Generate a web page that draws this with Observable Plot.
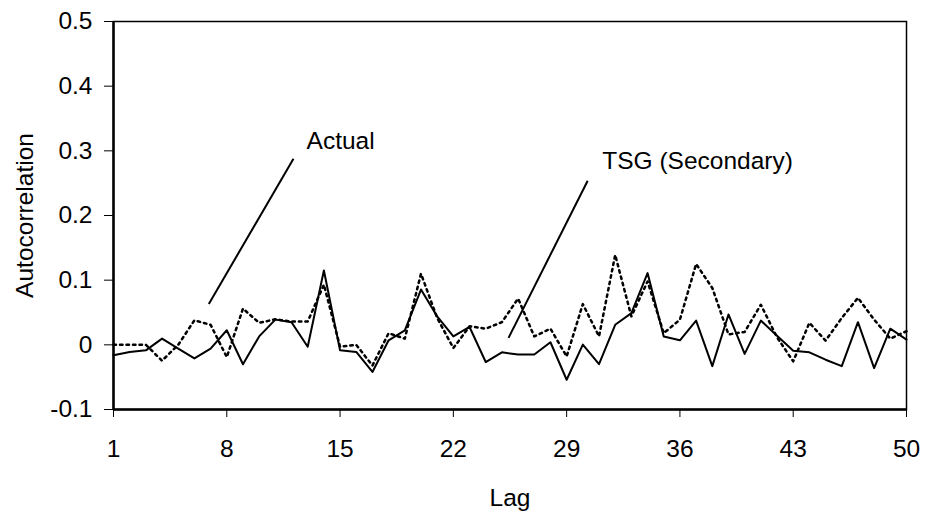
<!DOCTYPE html>
<html>
<head>
<meta charset="utf-8">
<script src="https://cdn.jsdelivr.net/npm/d3@7"></script>
<script src="https://cdn.jsdelivr.net/npm/@observablehq/plot@0.6"></script>
<style>
  body { margin: 0; background: #fff; }
  svg { display: block; }
</style>
</head>
<body>
<div id="chart"></div>
<script>
const lags = d3.range(1, 51);
const actual = [
  -0.016, -0.011, -0.0085, 0.0096, -0.006, -0.021, -0.006, 0.0225, -0.030, 0.013,
  0.039, 0.035, -0.003, 0.115, -0.0085, -0.011, -0.042, 0.007, 0.0225, 0.0855,
  0.044, 0.013, 0.0276, -0.0266, -0.0116, -0.015, -0.015, 0.004, -0.054, 0.0003,
  -0.030, 0.031, 0.049, 0.111, 0.013, 0.007, 0.0375, -0.033, 0.047, -0.014,
  0.0375, 0.014, -0.009, -0.0116, -0.023, -0.033, 0.035, -0.036, 0.025, 0.008
];
const tsg = [
  0, 0, 0, -0.0245, 0, 0.038, 0.031, -0.019, 0.056, 0.034,
  0.0395, 0.036, 0.036, 0.093, -0.003, 0, -0.032, 0.018, 0.0096, 0.11,
  0.0416, -0.005, 0.0287, 0.025, 0.035, 0.0716, 0.013, 0.025, -0.018, 0.063,
  0.013, 0.139, 0.044, 0.098, 0.018, 0.039, 0.125, 0.088, 0.016, 0.020,
  0.062, 0.0116, -0.0256, 0.034, 0.0065, 0.0416, 0.0726, 0.039, 0.0096, 0.021
];
const xTicks = [1, 8, 15, 22, 29, 36, 43, 50];
const yTicks = [-0.1, 0, 0.1, 0.2, 0.3, 0.4, 0.5];
const annotationLabels = ["Actual", "TSG (Secondary)"];
const labelLag = [12.93, 31.2];
const labelValue = [0.315, 0.2838];
const leaderFromLag = [12.12, 30.3];
const leaderFromValue = [0.2878, 0.2538];
const leaderToLag = [6.89, 25.41];
const leaderToValue = [0.0632, 0.0107];

const actualData = lags.map((l, i) => ({lag: l, value: actual[i]}));
const tsgData = lags.map((l, i) => ({lag: l, value: tsg[i]}));
const notes = annotationLabels.map((t, i) => ({
  text: t, x: labelLag[i], y: labelValue[i],
  x1: leaderFromLag[i], y1: leaderFromValue[i], x2: leaderToLag[i], y2: leaderToValue[i]
}));

const fontSize = 24.5;
const chart = Plot.plot({
  width: 925,
  height: 512,
  marginLeft: 113,
  marginRight: 19,
  marginTop: 21,
  marginBottom: 103,
  style: {fontFamily: "'Liberation Sans', Arial, sans-serif", fontSize: fontSize + "px", color: "#000", background: "#fff"},
  x: {domain: [1, 50]},
  y: {domain: [-0.1, 0.5]},
  marks: [
    Plot.frame({stroke: "#000", strokeWidth: 1.5}),
    Plot.axisX({
      ticks: xTicks, tickSize: 8, tickPadding: 22, tickFormat: d => String(d),
      fontSize: fontSize, label: "Lag", labelAnchor: "center", labelArrow: "none", labelOffset: 96
    }),
    Plot.axisY({
      ticks: yTicks, tickSize: 9, tickPadding: 12, tickFormat: d => (d === 0 ? "0" : d.toFixed(1)),
      fontSize: fontSize, label: "Autocorrelation", labelAnchor: "center", labelArrow: "none", labelOffset: 98
    }),
    Plot.ruleX([1], {stroke: "#000", strokeWidth: 2.5}),
    Plot.ruleY([-0.1], {stroke: "#000", strokeWidth: 2.5}),
    Plot.line(tsgData, {x: "lag", y: "value", stroke: "#000", strokeWidth: 2.5, strokeDasharray: "2.5,4"}),
    Plot.line(actualData, {x: "lag", y: "value", stroke: "#000", strokeWidth: 2}),
    Plot.link(notes, {x1: "x1", y1: "y1", x2: "x2", y2: "y2", stroke: "#000", strokeWidth: 2}),
    Plot.text(notes, {x: "x", y: "y", text: "text", textAnchor: "start", fontSize: fontSize, fill: "#000"})
  ]
});
document.getElementById("chart").appendChild(chart);
</script>
</body>
</html>
